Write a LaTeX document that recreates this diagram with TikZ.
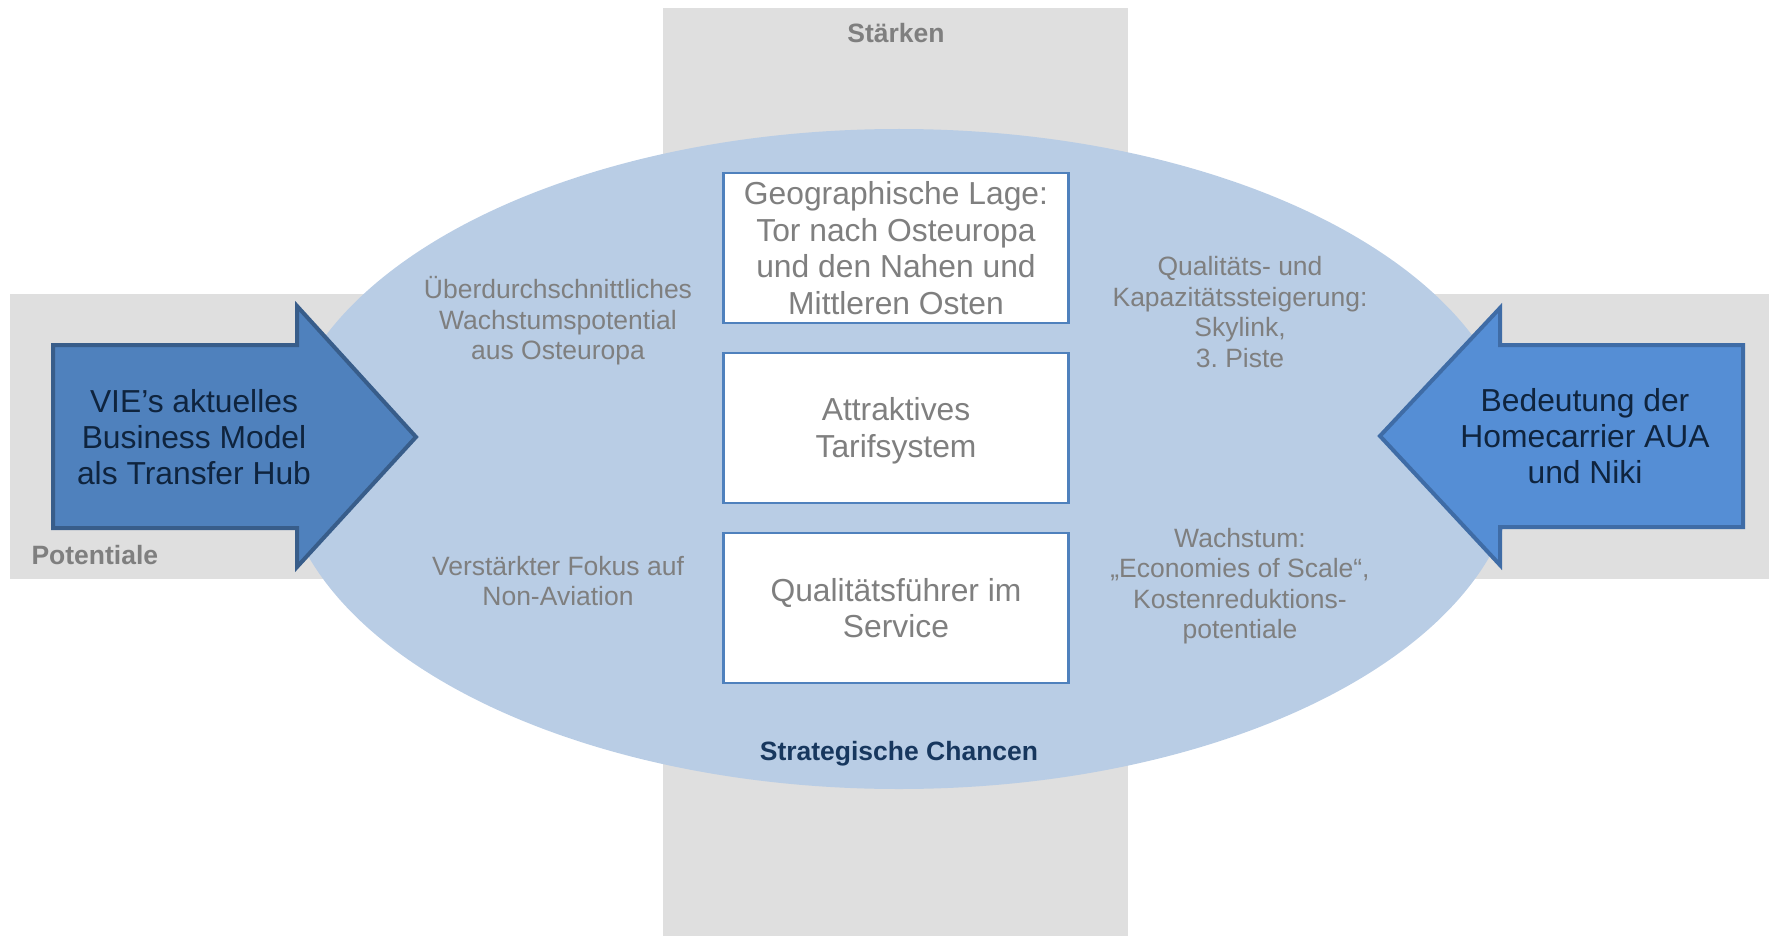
\documentclass[tikz,border=0pt]{standalone}
\usepackage{fontspec}
\setmainfont{Liberation Sans}
\frenchspacing
\begin{document}
\begin{tikzpicture}[x=1pt,y=-1pt,
  band/.style={fill=bandgrey,draw=none},
  sidetext/.style={text=txtgrey,align=center,font=\fontsize{26.5}{30.5}\selectfont},
  boxtext/.style={draw=boxblue,line width=2.5pt,fill=white,text=txtgrey,align=center,
    minimum width=345pt,font=\fontsize{31.8}{36.5}\selectfont,inner sep=0pt},
  arrowtext/.style={text=navytxt,align=center,font=\fontsize{31.8}{36}\selectfont},
  biglabel/.style={font=\bfseries\fontsize{26.5}{30}\selectfont}]
\definecolor{bandgrey}{HTML}{DFDFDF}
\definecolor{ellblue}{HTML}{B9CDE5}
\definecolor{boxblue}{HTML}{4F81BD}
\definecolor{txtgrey}{HTML}{7F7F7F}
\definecolor{navytxt}{HTML}{0F243E}
\definecolor{arrowL}{HTML}{4F81BD}
\definecolor{arrowLb}{HTML}{385D8A}
\definecolor{arrowR}{HTML}{558ED5}
\definecolor{arrowRb}{HTML}{3F6CA6}
\definecolor{chancen}{HTML}{17375E}

\useasboundingbox (0,0) rectangle (1769,936);

% grey cross of the two axes
\fill[band] (663,8) rectangle (1128,936);
\fill[band] (10,294) rectangle (1769,579);

% central ellipse
\fill[ellblue] (899,459) ellipse [x radius=618, y radius=330];

% left arrow
\draw[fill=arrowL,draw=arrowLb,line width=4pt,line join=miter]
  (53,345) -- (297,345) -- (297,306) -- (416,437) -- (297,567) -- (297,528) -- (53,528) -- cycle;
% right arrow
\draw[fill=arrowR,draw=arrowRb,line width=4pt,line join=miter]
  (1743,345) -- (1500,345) -- (1500,308) -- (1380,436) -- (1500,565) -- (1500,527) -- (1743,527) -- cycle;

% axis labels
\node[biglabel,text=txtgrey] (staerken) at (896,33) {Stärken};
\node[biglabel,text=txtgrey,anchor=west] (potentiale) at (28,555) {Potentiale};
\node[biglabel,text=chancen] (chancen) at (899,754) {Strategische Chancen};

% arrow texts
\node[arrowtext] (vie) at (194,437) {VIE’s aktuelles\\Business Model\\als Transfer Hub};
\node[arrowtext] (home) at (1585,436) {Bedeutung der\\Homecarrier AUA\\und Niki};

% central boxes
\node[boxtext,minimum height=150pt] (geo) at (896,248)
  {Geographische Lage:\\Tor nach Osteuropa\\und den Nahen und\\Mittleren Osten};
\node[boxtext,minimum height=150pt] (tarif) at (896,428) {};
\node[text=txtgrey,align=center,font=\fontsize{31.8}{36.5}\selectfont] (tariftxt) at (896,431) {Attraktives\\Tarifsystem};
\node[boxtext,minimum height=150pt] (qual) at (896,608) {Qualitätsführer im\\Service};

% side texts
\node[sidetext] (wachs) at (558,321) {Überdurchschnittliches\\Wachstumspotential\\aus Osteuropa};
\node[sidetext] (fokus) at (558,581) {Verstärkter Fokus auf\\Non-Aviation};
\node[sidetext] (kapaz) at (1240,312) {Qualitäts- und\\Kapazitätssteigerung:\\Skylink,\\3. Piste};
\node[sidetext] (scale) at (1240,586) {Wachstum:\\„Economies of Scale“,\\Kostenreduktions-\\potentiale};
\end{tikzpicture}
\end{document}
